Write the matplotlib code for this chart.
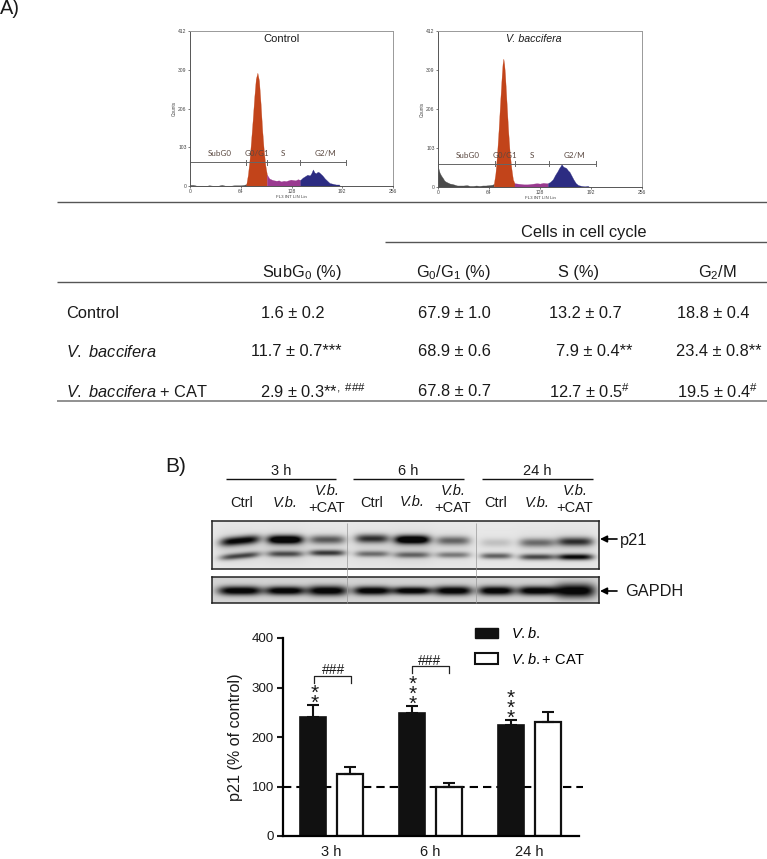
import numpy as np
import matplotlib
matplotlib.use("Agg")
import matplotlib.pyplot as plt
from matplotlib.patches import Patch

plt.rcParams['font.family'] = ['Liberation Sans', 'DejaVu Sans']
plt.rcParams['mathtext.fontset'] = 'custom'
plt.rcParams['mathtext.rm'] = 'Liberation Sans'
plt.rcParams['mathtext.it'] = 'Liberation Sans:italic'
plt.rcParams['mathtext.default'] = 'regular'

# ---------- data: flow cytometry histograms (channel, counts) ----------
ctrl_sub_x = [0, 4, 8, 12, 16, 20, 24, 28, 32, 36, 40, 44, 48, 52, 56, 60, 64, 68, 71]
ctrl_sub_y = [3, 3, 1, 1, 1, 0, 2, 1, 0, 1, 3, 1, 1, 1, 2, 2, 2, 3, 5]
ctrl_g1_x = [71, 73, 75, 77, 79, 81, 83, 85, 87, 89, 91, 93, 95, 97]
ctrl_g1_y = [5, 30, 68, 120, 175, 235, 285, 301, 280, 220, 150, 95, 55, 30]
ctrl_s_x = [97, 100, 103, 106, 109, 112, 115, 118, 121, 124, 127, 130, 133, 136, 139]
ctrl_s_y = [30, 20, 17, 15, 14, 15, 12, 14, 13, 15, 17, 16, 15, 18, 16]
ctrl_g2_x = [139, 142, 145, 148, 151, 153, 155, 157, 159, 161, 163, 165, 167, 170, 173, 176, 180, 184, 188, 189]
ctrl_g2_y = [16, 22, 26, 30, 28, 34, 44, 36, 34, 38, 36, 32, 28, 20, 14, 8, 6, 4, 4, 0]

bacc_sub_x = [0, 1, 2, 4, 6, 8, 10, 12, 15, 18, 21, 24, 28, 32, 36, 40, 44, 48, 52, 56, 60, 64, 68, 70]
bacc_sub_y = [52, 46, 38, 30, 24, 17, 14, 12, 9, 8, 6, 4, 4, 4, 5, 3, 3, 4, 3, 4, 4, 5, 6, 8]
bacc_g1_x = [70, 72, 74, 76, 78, 80, 81, 82, 83, 84, 86, 88, 90, 92, 94, 96]
bacc_g1_y = [8, 35, 85, 150, 225, 295, 325, 339, 325, 300, 225, 150, 90, 50, 20, 10]
bacc_s_x = [96, 100, 104, 108, 112, 116, 120, 124, 128, 132, 136, 138]
bacc_s_y = [10, 9, 8, 7, 7, 8, 9, 10, 9, 11, 10, 10]
bacc_g2_x = [138, 141, 144, 147, 150, 152, 154, 155, 157, 159, 161, 163, 165, 167, 170, 173, 176, 180, 184, 188, 190]
bacc_g2_y = [10, 14, 20, 32, 42, 50, 56, 61, 54, 52, 50, 44, 40, 32, 20, 10, 5, 3, 2, 3, 0]

hist_ticks_y = [0, 103, 206, 309, 412]
hist_ticks_x = [0, 64, 128, 192, 256]
ctrl_gate_ticks = [0, 71, 97, 139, 197]
bacc_gate_ticks = [0, 71, 97, 139, 198]
gate_level_ctrl = 63
gate_level_bacc = 62
gate_names = ['SubG0', 'G0/G1', 'S', 'G2/M']

# ---------- data: table ----------
row_names = ['Control', r'$\mathit{V{.}\ baccifera}$', r'$\mathit{V{.}\ baccifera}$ + CAT']
col_names = [r'SubG$_{0}$ (%)', r'G$_{0}$/G$_{1}$ (%)', 'S (%)', r'G$_{2}$/M']
subg0_vals = ['1.6 ± 0.2', '11.7 ± 0.7***', r'2.9 ± 0.3**$^{,\ \#\#\#}$']
g0g1_vals = ['67.9 ± 1.0', '68.9 ± 0.6', '67.8 ± 0.7']
s_vals = ['13.2 ± 0.7', '7.9 ± 0.4**', r'12.7 ± 0.5$^{\#}$']
g2m_vals = ['18.8 ± 0.4', '23.4 ± 0.8**', r'19.5 ± 0.4$^{\#}$']

# ---------- data: western blot band darkness (0-1) and vertical position (px in panel) ----------
p21_upper_dark = [1.00, 1.25, 0.60, 0.78, 1.25, 0.55, 0.16, 0.52, 0.78]
p21_upper_pos = [20, 19, 19, 18, 19, 20, 22, 22, 21]
p21_lower_dark = [0.68, 0.62, 0.75, 0.50, 0.52, 0.46, 0.60, 0.70, 1.00]
p21_lower_pos = [35, 33, 32, 33, 34, 34, 35, 36, 36]
gapdh_dark = [1.0, 1.0, 1.0, 1.0, 1.0, 1.0, 1.0, 1.0, 1.0]
gapdh_thick = [4.6, 4.4, 5.0, 4.4, 4.0, 4.6, 4.6, 4.6, 7.0]

# ---------- data: bar chart ----------
times = ['3 h', '6 h', '24 h']
vb_vals = [240, 248, 224]
vb_errs = [25, 15, 11]
cat_vals = [125, 100, 231]
cat_errs = [15, 8, 19]
bar_ticks = [0, 100, 200, 300, 400]

W, H = 767, 859
fig = plt.figure(figsize=(W / 100, H / 100), dpi=100)


def px_axes(l, t, r, b, **kw):
    return fig.add_axes([l / W, 1 - b / H, (r - l) / W, (b - t) / H], **kw)


ov = px_axes(0, 0, W, H, zorder=10)
ov.set_xlim(0, W)
ov.set_ylim(H, 0)
ov.axis('off')
ov.patch.set_alpha(0)


def T(x, y, s, size=11.8, ha='left', va='center', **kw):
    ov.text(x, y, s, fontsize=size, ha=ha, va=va, color=kw.pop('color', '#1a1a1a'), **kw)


def L(x0, x1, y0, y1=None, color='#333333', lw=1.0):
    ov.plot([x0, x1], [y0, y0 if y1 is None else y1], color=color, lw=lw, solid_capstyle='butt')


# ---------- panel A histograms ----------
def histogram(box, parts, gate_ticks, level):
    ax = px_axes(*box)
    colors = ['#4a4a4a', '#C2441A', '#9A3A90', '#2C2C82']
    for (x, y), c in zip(parts, colors):
        ax.fill_between(x, y, 0, color=c, lw=0.2)
    ax.set_xlim(0, 256)
    ax.set_ylim(0, 412)
    ax.set_xticks(hist_ticks_x)
    ax.set_yticks(hist_ticks_y)
    ax.tick_params(labelsize=3.6, length=1.5, width=0.5, pad=1, colors='#444444')
    for s in ax.spines.values():
        s.set_linewidth(0.7)
        s.set_color('#999999')
    ax.spines['left'].set_color('#555555')
    ax.spines['bottom'].set_color('#555555')
    ax.set_xlabel('FL3 INT LIN Lin', fontsize=3.2, labelpad=0.5, color='#444444')
    ax.set_ylabel('Counts', fontsize=3.4, labelpad=1, color='#444444')
    ax.plot([gate_ticks[0], gate_ticks[-1]], [level, level], color='#666666', lw=0.7)
    for t in gate_ticks:
        ax.plot([t, t], [level - 7, level + 7], color='#666666', lw=0.7)
    return ax


axc = histogram((190, 31, 393, 186),
                [(ctrl_sub_x, ctrl_sub_y), (ctrl_g1_x, ctrl_g1_y), (ctrl_s_x, ctrl_s_y), (ctrl_g2_x, ctrl_g2_y)],
                ctrl_gate_ticks, gate_level_ctrl)
axb = histogram((438, 31, 642, 187),
                [(bacc_sub_x, bacc_sub_y), (bacc_g1_x, bacc_g1_y), (bacc_s_x, bacc_s_y), (bacc_g2_x, bacc_g2_y)],
                bacc_gate_ticks, gate_level_bacc)

gate_font = dict(family='Lato', size=5.8, color='#5a4840')
for name, x, xb in zip(gate_names, [220, 257, 283, 325], [468, 505, 532, 574]):
    T(x, 154, name, ha='center', **gate_font)
    T(xb, 155, name, ha='center', **gate_font)
T(281, 39, 'Control', size=8, ha='center')
T(534, 39, 'V. baccifera', size=7.7, ha='center', style='italic')

# ---------- panel A table ----------
T(0, 14, 'A)', size=14.4, va='baseline')
L(57, 767, 202, color='#555555')
T(521, 233, 'Cells in cell cycle', size=11.8)
L(385, 767, 242, color='#555555')
L(57, 767, 282, color='#555555')
L(57, 767, 401, color='#888888', lw=1.3)
for s, x in zip(col_names, [262, 416, 558, 698]):
    T(x, 273, s)
row_y = [313, 352, 392]
for s, y, x in zip(row_names, row_y, [66, 66, 66]):
    T(x, y, s)
for vals, xs in [(subg0_vals, [261, 251, 260]), (g0g1_vals, [418, 418, 418]),
                 (s_vals, [549, 556, 549]), (g2m_vals, [677, 676, 677])]:
    for v, x, y in zip(vals, xs, row_y):
        T(x, y, v)

# ---------- panel B blot ----------
T(165, 466, 'B)', size=15)
for lbl, x0, x1 in zip(times, [226, 353, 482], [336, 464, 593]):
    T((x0 + x1) / 2, 471, lbl, size=10.5, ha='center')
    L(x0, x1, 479, color='#111111')
lane_x = [240, 285, 327, 372, 412, 453, 496, 537, 575]
lane_hw = [20, 18, 18, 17, 18, 17, 16, 18, 18]
label_x = [242, 285, 327, 372, 412, 453, 496, 537, 575]
for i, (x, lbl_y) in enumerate(zip(label_x, [503, 503, 0, 503, 502, 0, 503, 503, 0])):
    if i % 3 == 0:
        T(x, lbl_y, 'Ctrl', size=10.5, ha='center')
    elif i % 3 == 1:
        T(x, lbl_y, 'V.b.', size=10.5, ha='center', style='italic')
    else:
        T(x, 491, 'V.b.', size=10.5, ha='center', style='italic')
        T(x, 508, '+CAT', size=10.5, ha='center')


def band(xx, yy, cx, hw, cy, sig, tilt=0.0):
    yc = cy + tilt * (xx - cx)
    return np.exp(-np.abs((xx - cx) / hw) ** 4) * np.exp(-((yy - yc) / sig) ** 2)


def blot(box, bg, layers):
    l, t, r, b = box
    xx, yy = np.meshgrid(np.arange(l, r, 0.5), np.arange(0, b - t, 0.5))
    img = np.zeros_like(xx)
    for f in layers:
        img = img + f(xx, yy)
    img = np.clip(bg * (1 - np.clip(img, 0, 1)) + 0.03, 0, 1)
    ax = px_axes(*box)
    ax.imshow(img, cmap='gray', vmin=0, vmax=1, aspect='auto', extent=(l, r, b - t, 0))
    ax.set_xticks([])
    ax.set_yticks([])
    for s in ax.spines.values():
        s.set_linewidth(1.1)
        s.set_color('#222222')
    return ax


p21_layers = []
for k, (cx, hw) in enumerate(zip(lane_x, lane_hw)):
    tilt = -0.09 if k == 0 else 0.0
    p21_layers.append(lambda xx, yy, cx=cx, hw=hw, d=p21_upper_dark[k], y=p21_upper_pos[k], tl=tilt:
                      d * band(xx, yy, cx, hw, y, 4.3, tl))
    p21_layers.append(lambda xx, yy, cx=cx, hw=hw, d=p21_lower_dark[k], y=p21_lower_pos[k], tl=tilt:
                      d * band(xx, yy, cx, hw, y, 3.0, tl))
    p21_layers.append(lambda xx, yy, cx=cx, hw=hw, d=p21_upper_dark[k]:
                      0.10 * d * band(xx, yy, cx, hw + 4, 26, 15))
blot((212, 521, 599, 569), 0.88, p21_layers)
gapdh_layers = [lambda xx, yy, cx=cx, hw=hw, d=d, s=s: 1.15 * d * band(xx, yy, cx, hw + 2, 13.5, s)
                for cx, hw, d, s in zip(lane_x, lane_hw, gapdh_dark, gapdh_thick)]
blot((212, 577, 599, 603), 0.80, gapdh_layers)
for x in [347, 476]:
    L(x, x, 523, 603, color='#999999', lw=0.5)

for y, lbl, x in [(539, 'p21', 620), (591, 'GAPDH', 625)]:
    ov.annotate('', xy=(600, y), xytext=(617, y),
                arrowprops=dict(arrowstyle='-|>', color='black', lw=1.2, mutation_scale=10, shrinkA=0, shrinkB=0))
    T(x, y + 1, lbl)

# ---------- panel B bars ----------
ax = px_axes(283, 638, 579, 836)
x = np.arange(len(times))
off, bw = 0.187, 0.265
ax.plot([-0.49, 2.54], [100, 100], color='black', lw=1.5, ls=(0, (4, 2.4)), zorder=1, clip_on=False)
bv = ax.bar(x - off, vb_vals, bw, color='#111111', edgecolor='#111111', lw=1.2, zorder=2,
            yerr=[[0] * 3, vb_errs], error_kw=dict(ecolor='#111111', elinewidth=1.5, capsize=4.5, capthick=1.5))
bc = ax.bar(x + off, cat_vals, bw, color='white', edgecolor='#111111', lw=1.6, zorder=2,
            yerr=[[0] * 3, cat_errs], error_kw=dict(ecolor='#111111', elinewidth=1.5, capsize=4.5, capthick=1.5))
ax.set_xlim(-0.49, 2.5)
ax.set_ylim(0, 400)
ax.set_xticks(x, times, fontsize=10.5)
ax.set_yticks(bar_ticks)
ax.tick_params(axis='x', length=0, pad=6.5, colors='#1a1a1a')
ax.tick_params(axis='y', length=4.5, width=1.5, labelsize=9.6, pad=2, colors='#1a1a1a')
ax.patch.set_alpha(0)
for s in ['top', 'right']:
    ax.spines[s].set_visible(False)
for s in ['left', 'bottom']:
    ax.spines[s].set_linewidth(1.6)
ax.set_ylabel('p21 (% of control)', fontsize=11.6, labelpad=6.5, color='#1a1a1a')
ax.legend([Patch(facecolor='#111111', edgecolor='#111111'), Patch(facecolor='white', edgecolor='#111111', lw=1.5)],
          [r'$\mathit{V{.}b{.}}$', r'$\mathit{V{.}b{.}}$+ CAT'], frameon=False, fontsize=10.5,
          loc='upper left', bbox_to_anchor=((475 - 283) / 296, 1.06), borderaxespad=0, borderpad=0,
          handlelength=1.6, handleheight=0.75, handletextpad=0.85, labelspacing=0.72)

# brackets and significance marks
for x0, x1, top, drop, tx, ty in [(314, 351, 676, 683, 334, 670), (412, 449, 666, 673, 430, 661)]:
    ov.plot([x0, x0, x1, x1], [drop, top, top, drop], color='#222222', lw=0.9)
    T(tx, ty, '###', size=10, ha='center')
for sx, sy, stars in [(314.7, 684, '*\n*'), (412.7, 675, '*\n*\n*'), (511, 689, '*\n*\n*')]:
    T(sx, sy, stars, size=15, ha='center', va='top', linespacing=0.39)

fig.savefig('out.png', dpi=100)
